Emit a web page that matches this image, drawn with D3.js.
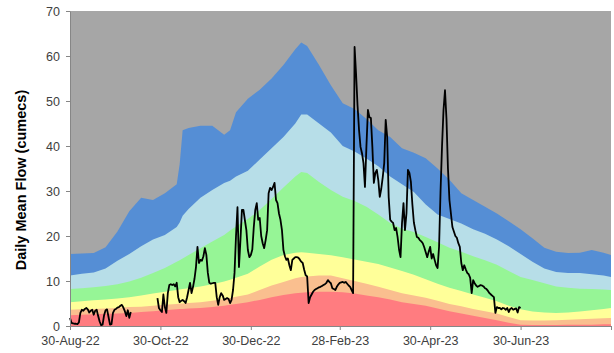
<!DOCTYPE html>
<html>
<head>
<meta charset="utf-8">
<script src="https://cdn.jsdelivr.net/npm/d3@7"></script>
<style>
  html, body { margin: 0; padding: 0; background: #ffffff; }
  svg { display: block; font-family: Arial, "Liberation Sans", sans-serif; }
</style>
</head>
<body>
<svg id="chart" width="614" height="353"></svg>
<script>
// Water year shown on the chart
const startDate = new Date(2022, 7, 30);   // 30-Aug-22
const endDate = new Date(2023, 7, 30);     // 30-Aug-23

// Day offsets (from 30-Aug-22) at which the historical flow bands are given
const bandDays = [0, 8, 16, 24, 32, 40, 48, 56, 64, 72, 74, 76, 80, 88, 96, 104, 108, 112, 120, 128,
  136, 144, 152, 156, 160, 168, 176, 184, 192, 200, 208, 216, 224, 232, 240, 248, 256, 264, 272, 280,
  288, 296, 304, 312, 320, 328, 336, 344, 352, 360, 365];

// Upper edge of each band (cumecs)
const bandMax = [16.0, 16.1, 16.2, 17.5, 21.0, 25.5, 28.5, 28.0, 29.5, 31.5, 36.0, 43.5, 44.0, 44.5, 44.5, 42.5, 43.5, 47.5, 50.5, 52.5,
  55.0, 58.0, 61.5, 63.0, 62.2, 58.0, 53.5, 49.5, 48.2, 46.0, 43.5, 42.0, 39.5, 38.5, 37.3, 35.0, 32.5, 29.5, 28.0, 26.5,
  25.0, 23.3, 21.5, 19.5, 17.4, 16.5, 16.2, 16.3, 16.9, 16.3, 15.8];
const bandHigh = [11.2, 11.6, 11.9, 12.8, 14.5, 16.0, 17.7, 19.2, 20.2, 22.0, 23.0, 24.5, 26.0, 28.5, 30.2, 31.8, 32.3, 33.2, 34.5, 37.0,
  39.5, 42.0, 45.0, 47.0, 47.0, 45.0, 43.0, 40.0, 38.8, 37.2, 35.5, 33.2, 31.5, 29.8, 27.0, 24.8, 23.8, 22.8, 21.5, 20.5,
  19.2, 17.7, 16.0, 14.3, 12.8, 12.0, 11.8, 11.8, 11.5, 11.2, 10.9];
const bandAboveNormal = [8.2, 8.4, 8.6, 8.9, 9.3, 9.9, 10.7, 11.8, 12.9, 14.3, 14.6, 15.0, 15.8, 17.3, 18.8, 20.2, 21.2, 22.1, 23.8, 25.8,
  28.2, 30.8, 33.2, 34.2, 34.0, 32.0, 30.2, 28.7, 27.8, 26.5, 24.8, 22.9, 21.6, 20.9, 19.8, 18.6, 17.4, 16.5, 15.5, 14.6,
  13.6, 12.2, 10.9, 10.2, 9.5, 8.8, 8.5, 8.3, 8.2, 8.1, 8.0];
const bandNormal = [5.3, 5.5, 5.7, 5.9, 6.1, 6.4, 6.8, 7.2, 7.6, 8.0, 8.1, 8.2, 8.4, 8.8, 9.3, 9.9, 10.3, 10.7, 11.6, 13.2,
  14.7, 15.8, 16.3, 16.4, 16.3, 16.0, 15.7, 15.3, 14.8, 14.3, 13.8, 13.0, 12.2, 11.4, 10.4, 9.4, 8.5, 7.8, 7.0, 6.3,
  5.5, 4.5, 3.7, 3.2, 3.0, 2.9, 3.0, 3.2, 3.5, 3.8, 4.0];
const bandBelowNormal = [3.6, 3.7, 3.8, 3.9, 4.0, 4.2, 4.3, 4.5, 4.7, 4.9, 5.0, 5.0, 5.1, 5.3, 5.6, 6.0, 6.2, 6.5, 7.0, 8.0,
  9.0, 9.8, 10.6, 10.9, 11.0, 11.2, 11.2, 10.6, 10.0, 9.4, 8.7, 8.0, 7.3, 6.8, 6.3, 5.6, 4.9, 4.4, 3.8, 3.3,
  2.8, 2.0, 1.3, 1.2, 1.2, 1.3, 1.4, 1.5, 1.6, 1.7, 1.8];
const bandLow = [2.4, 2.5, 2.6, 2.7, 2.8, 2.9, 3.1, 3.3, 3.5, 3.7, 3.8, 3.8, 3.9, 4.0, 4.2, 4.5, 4.7, 4.9, 5.3, 5.8,
  6.4, 6.9, 7.3, 7.4, 7.5, 7.6, 7.6, 7.5, 7.2, 6.8, 6.4, 5.9, 5.3, 4.9, 4.5, 3.9, 3.3, 2.8, 2.3, 1.8,
  1.3, 0.7, 0.3, 0.2, 0.2, 0.2, 0.3, 0.3, 0.3, 0.4, 0.4];

const bandColors = ["#558ed5", "#b7dee8", "#96f596", "#ffff99", "#fabf8f", "#ff7c80"];
const bandSeries = [bandMax, bandHigh, bandAboveNormal, bandNormal, bandBelowNormal, bandLow];

// Observed daily mean flow from 30-Aug-22, one value per day (null = no record)
const flowValues = [
  1.8, 0.7, 0.6, 0.5, 0.5, 0.4, 0.8, 2.9, 3.6, 3.4,
  3.8, 4.0, 3.7, 3.0, 3.4, 3.6, 2.5, 3.4, 3.6, 2.2,
  1.0, 0.2, 0.3, 2.4, 3.5, 3.7, 2.0, 0.3, 0.4, 2.9,
  3.6, 3.8, 4.1, 4.2, 4.5, 4.7, 4.1, 3.3, 2.2, 3.5,
  1.8, 3.1,
  null, null, null, null, null, null, null, null, null, null,
  null, null, null, null, null, null, null,
  6.2, 4.0, 3.5, 3.1, 7.0, 4.2, 2.9, 7.3, 9.1, 9.3,
  9.1, 9.3, 8.8, 9.6, 6.4, 5.3, 5.6, 5.8, 5.5, 5.1,
  6.4, 8.0, 9.6, 7.3, 8.7, 10.5, 13.1, 17.6, 14.0, 14.7,
  14.5, 15.5, 17.3, 15.8, 11.8, 9.6, 9.4, 9.5, 9.6, 9.6,
  6.4, 4.7, 6.4, 7.3, 6.8, 5.8, 6.0, 6.2, 6.0, 5.1,
  5.8, 8.0, 11.8, 20.0, 26.4, 13.1, 19.1, 25.8, 25.8, 23.5,
  21.3, 16.9, 15.3, 15.8, 17.0, 22.0, 25.8, 27.3, 23.6, 24.0,
  20.0, 18.4, 17.3, 19.1, 21.3, 29.5, 30.7, 30.2, 30.9, 31.8,
  28.0, 27.3, 25.0, 23.6, 21.3, 16.9, 15.5, 14.7, 15.0, 13.5,
  12.4, 14.7, 15.0, 15.3, 15.3, 15.2, 14.8, 14.3, 14.0, 12.5,
  11.3, 11.0, 5.1, 6.4, 7.0, 7.6, 8.0, 8.2, 8.4, 8.6,
  8.7, 8.9, 9.1, 9.3, 9.6, 10.2, 9.8, 9.5, 8.4, 8.2,
  8.0, 8.7, 9.2, 9.6, 9.7, 9.8, 9.6, 9.8, 9.4, 9.0,
  8.7, 8.0, 7.3, 62.0, 56.0, 49.0, 43.6, 39.8, 38.4, 36.2,
  30.9, 40.0, 48.0, 46.4, 46.2, 39.8, 31.8, 34.0, 34.7, 32.4,
  28.7, 30.5, 33.1, 36.2, 45.8, 42.0, 28.7, 23.6, 23.2, 22.9,
  21.3, 21.8, 19.8, 17.0, 15.3, 22.9, 27.3, 21.3, 25.0, 34.7,
  34.0, 32.0, 27.0, 23.0, 21.3, 19.8, 19.6, 19.1, 18.8, 18.4,
  17.5, 16.4, 15.3, 16.5, 17.6, 15.0, 16.0, 14.7, 13.5, 12.9,
  17.6, 30.0, 40.0, 48.0, 52.4, 46.0, 35.0, 28.0, 25.0, 22.0,
  21.0, 20.0, 19.6, 18.4, 17.6, 14.0, 12.4, 13.5, 12.6, 11.8,
  11.5, 10.7, 7.3, 10.2, 9.5, 9.0, 8.7, 8.9, 9.1, 9.0,
  8.8, 8.4, 8.2, 7.8, 7.3, 7.0, 6.7, 6.4, 2.9, 4.2,
  4.0, 4.0, 3.7, 4.0, 3.9, 3.6, 4.0, 3.1, 3.8, 4.0,
  3.6, 3.8, 3.9, 3.0, 4.2, 4.0
];

// Axis ticks
const xTickDates = ["2022-08-30", "2022-10-30", "2022-12-30", "2023-02-28", "2023-04-30", "2023-06-30", "2023-08-30"];
const xTickLabels = ["30-Aug-22", "30-Oct-22", "30-Dec-22", "28-Feb-23", "30-Apr-23", "30-Jun-23", ""];
const yTicks = [0, 10, 20, 30, 40, 50, 60, 70];
const yTitle = "Daily Mean Flow (cumecs)";

// ---- layout ----
const W = 614, H = 353;
const margin = { top: 11, right: 3, bottom: 27, left: 70 };
const iw = W - margin.left - margin.right;
const ih = H - margin.top - margin.bottom;

const svg = d3.select("#chart");
const g = svg.append("g").attr("transform", `translate(${margin.left},${margin.top})`);

const x = d3.scaleTime().domain([startDate, endDate]).range([0, iw]);
const y = d3.scaleLinear().domain([0, 70]).range([ih, 0]);

const dayToDate = d => d3.timeDay.offset(startDate, d);
const parse = d3.timeParse("%Y-%m-%d");

// plot background (flows above the historical maximum)
g.append("rect")
  .attr("x", 0).attr("y", 0).attr("width", iw).attr("height", ih)
  .attr("fill", "#a6a6a6");

// stacked flow bands, drawn from the widest to the narrowest
const area = d3.area()
  .x(d => x(d.date))
  .y0(y(0))
  .y1(d => y(d.v));

bandSeries.forEach((series, i) => {
  const pts = bandDays.map((d, j) => ({ date: dayToDate(d), v: series[j] }));
  g.append("path")
    .datum(pts)
    .attr("d", area)
    .attr("fill", bandColors[i]);
});

// observed flow
const flow = flowValues.map((v, i) => ({ date: dayToDate(i), v }));
const line = d3.line()
  .defined(d => d.v !== null)
  .x(d => x(d.date))
  .y(d => y(d.v));

g.append("path")
  .datum(flow)
  .attr("d", line)
  .attr("fill", "none")
  .attr("stroke", "#000000")
  .attr("stroke-width", 1.8)
  .attr("stroke-linejoin", "round");

// axes
const axisColor = "#868686";
const textColor = "#404040";

const yAxis = g.append("g")
  .call(d3.axisLeft(y).tickValues(yTicks).tickSize(4).tickSizeOuter(0).tickPadding(6));
yAxis.select(".domain").attr("stroke", axisColor);
yAxis.selectAll(".tick line").attr("stroke", axisColor);
yAxis.selectAll(".tick text")
  .attr("fill", textColor)
  .style("font-size", "12.5px");

const xAxis = g.append("g")
  .attr("transform", `translate(0,${ih})`)
  .call(d3.axisBottom(x)
    .tickValues(xTickDates.map(parse))
    .tickSize(4)
    .tickSizeOuter(0)
    .tickPadding(6)
    .tickFormat((d, i) => xTickLabels[i]));
xAxis.select(".domain").attr("stroke", axisColor);
xAxis.selectAll(".tick line").attr("stroke", axisColor);
xAxis.selectAll(".tick text")
  .attr("fill", textColor)
  .style("font-size", "12.5px");

// y title
svg.append("text")
  .attr("transform", "translate(26,180) rotate(-90)")
  .attr("text-anchor", "middle")
  .attr("font-weight", "bold")
  .attr("font-size", "14.5px")
  .attr("fill", "#000000")
  .text(yTitle);
</script>
</body>
</html>
